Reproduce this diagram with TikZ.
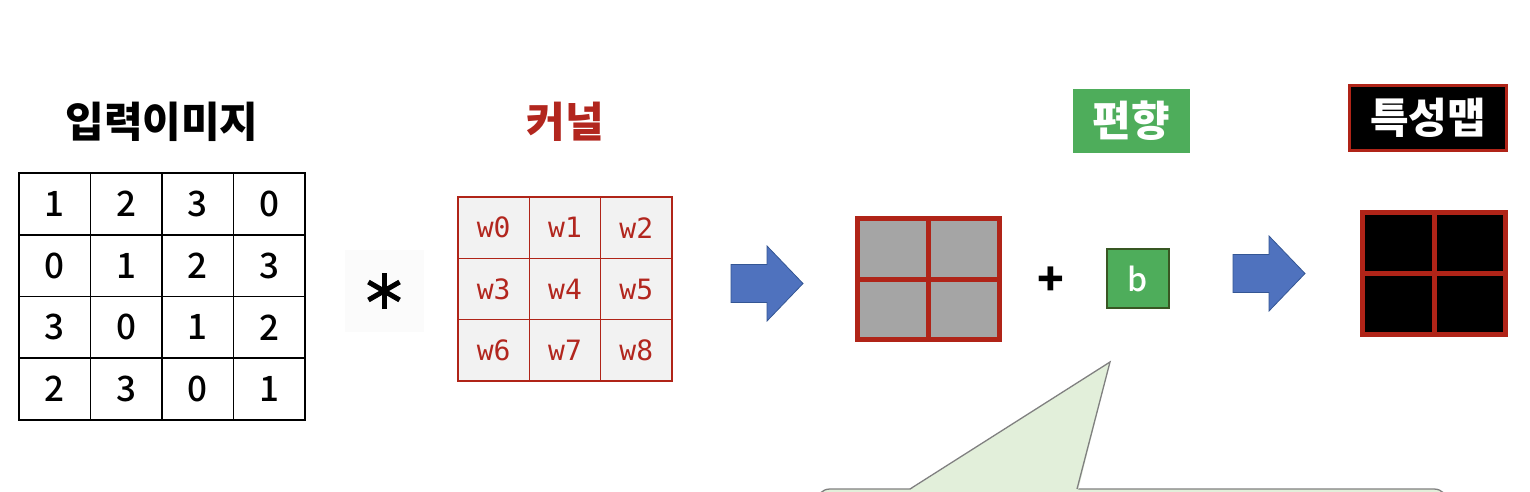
\documentclass[tikz,border=0pt]{standalone}
\usepackage{fontspec}
\setmainfont{Noto Sans CJK KR}
\setmonofont{DejaVu Sans Mono}
\newfontfamily\numfont{Noto Sans CJK KR Medium}
\usetikzlibrary{positioning}
\definecolor{krred}{RGB}{178,38,30}
\definecolor{gridred}{RGB}{176,36,24}
\definecolor{arrblue}{RGB}{79,114,190}
\definecolor{arrline}{RGB}{52,86,148}
\definecolor{kergray}{RGB}{242,242,242}
\definecolor{mapgray}{RGB}{165,165,165}
\definecolor{biasgreen}{RGB}{78,173,91}
\definecolor{darkgreen}{RGB}{56,87,35}
\definecolor{notegreen}{RGB}{226,239,218}
\definecolor{notegray}{RGB}{128,128,128}
\tikzset{
  title/.style={font=\fontsize{42}{48}\selectfont\bfseries,inner sep=0pt},
  incell/.style={draw=black,line width=1.6pt,minimum width=71.5pt,minimum height=61.75pt,inner sep=0pt,font=\numfont\fontsize{35}{40}\selectfont},
  kercell/.style={draw=gridred,line width=1.2pt,fill=kergray,minimum width=71.33pt,minimum height=61.33pt,inner sep=0pt,text=krred,font=\ttfamily\fontsize{28}{32}\selectfont},
  mapcell/.style={draw=gridred,line width=5pt,fill=mapgray,minimum width=71pt,minimum height=60.5pt,inner sep=0pt},
  featcell/.style={mapcell,fill=black,minimum width=71.5pt,minimum height=61pt},
  biasbox/.style={draw=darkgreen,line width=1.2pt,fill=biasgreen,minimum width=62pt,minimum height=59pt,inner sep=0pt,text=white,font=\numfont\fontsize{32}{36}\selectfont},
  tagbox/.style={title,text=white,minimum height=64pt},
  blockarr/.style={fill=arrblue,draw=arrline,line width=0.8pt},
  note/.style={fill=notegreen,draw=notegray,line width=1.3pt}
}

\begin{document}
\begin{tikzpicture}[x=1pt,y=-1pt]
  \useasboundingbox (0,0) rectangle (1530,492);
  \clip (0,0) rectangle (1530,492);
  \fill[white] (0,0) rectangle (1530,492);

  % input image
  \node[title] (intitle) at (162,122) {입력이미지};
  \foreach \row [count=\ri from 0] in {{1,2,3,0},{0,1,2,3},{3,0,1,2},{2,3,0,1}}
    \foreach \val [count=\ci from 0] in \row
      \node[incell] (in-\ri-\ci) at ({54.75+71.5*\ci},{203.875+61.75*\ri}) {\val};

  % convolution sign
  \node[fill=black!1.5,minimum width=79pt,minimum height=82pt] (convop) at (384,291) {};
  \foreach \a in {90,30,150}
    \draw[line width=5pt] ([shift={(\a:18)}]convop.center) -- ([shift={(\a+180:18)}]convop.center);
  \fill (convop.center) circle (4.5pt);

  % kernel
  \node[title,text=krred] (kertitle) at (565,122) {커널};
  \foreach \ri in {0,1,2}
    \foreach \ci in {0,1,2} {
      \pgfmathtruncatemacro\wi{3*\ri+\ci}
      \node[kercell] (ker-\ri-\ci) at ({493.67+71.33*\ci},{227.67+61.33*\ri}) {w\wi};
    }

  % block arrows
  \foreach \ax/\ay in {731/283.5,1233/273.5}
    \draw[blockarr] (\ax,\ay-19) -- ++(36,0) -- ++(0,-18.5) -- ++(36,37.5)
      -- ++(-36,37.5) -- ++(0,-18.5) -- ++(-36,0) -- cycle;

  % convolution output
  \foreach \ri in {0,1}
    \foreach \ci in {0,1}
      \node[mapcell] (out-\ri-\ci) at ({893+71*\ci},{248.75+60.5*\ri}) {};

  % bias
  \node[font=\fontsize{44}{48}\selectfont\bfseries] (plus) at (1051,281) {+};
  \node[biasbox] (bias) at (1138,278.5) {b};
  \node[tagbox,fill=biasgreen,minimum width=117pt] (biastag) at (1131.5,121) {편향};

  % feature map
  \foreach \ri in {0,1}
    \foreach \ci in {0,1}
      \node[featcell] (feat-\ri-\ci) at ({1398.25+71.5*\ci},{243+61*\ri}) {};
  \node[tagbox,fill=black,draw=gridred,line width=3pt,minimum width=157pt,minimum height=65pt] (feattag) at (1428,118) {특성맵};

  % callout
  \coordinate (tip) at (1110,362);
  \draw[note,rounded corners=14pt] (816,489) rectangle (1448,560);
  \fill[notegreen] (909,490.5) -- (tip) -- (1078,490.5) -- cycle;
  \draw[notegray,line width=1.3pt] (910,489) -- (tip) -- (1077,489);
\end{tikzpicture}
\end{document}
